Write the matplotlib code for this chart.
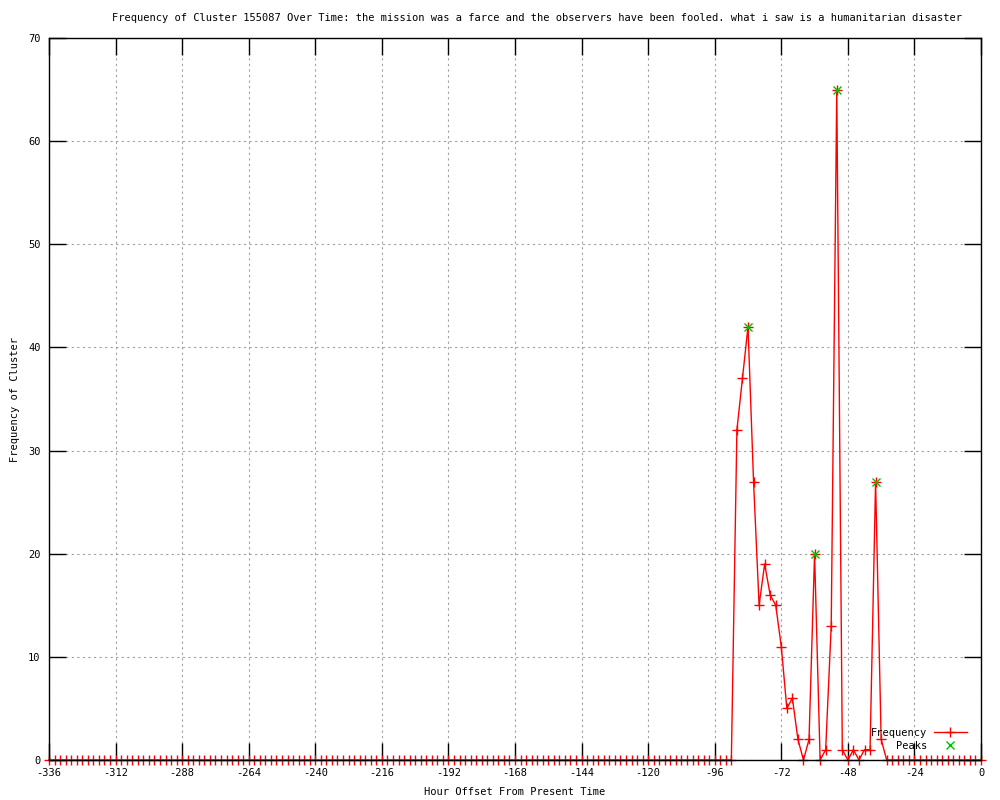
import numpy as np
import matplotlib
matplotlib.use("Agg")
import matplotlib.pyplot as plt

# data: frequency every 2 hours, -336 .. 0
hours = np.arange(-336, 1, 2)
freq = [
    0, 0, 0, 0, 0, 0, 0, 0, 0, 0, 0, 0, 0, 0, 0, 0, 0, 0, 0, 0,
    0, 0, 0, 0, 0, 0, 0, 0, 0, 0, 0, 0, 0, 0, 0, 0, 0, 0, 0, 0,
    0, 0, 0, 0, 0, 0, 0, 0, 0, 0, 0, 0, 0, 0, 0, 0, 0, 0, 0, 0,
    0, 0, 0, 0, 0, 0, 0, 0, 0, 0, 0, 0, 0, 0, 0, 0, 0, 0, 0, 0,
    0, 0, 0, 0, 0, 0, 0, 0, 0, 0, 0, 0, 0, 0, 0, 0, 0, 0, 0, 0,
    0, 0, 0, 0, 0, 0, 0, 0, 0, 0, 0, 0, 0, 0, 0, 0, 0, 0, 0, 0,
    0, 0, 0, 0,
    # -88 .. -34
    32, 37, 42, 27, 15, 19, 16, 15, 11, 5, 6, 2, 0, 2,
    20, 0, 1, 13, 65, 1, 0, 1, 0, 1, 1, 27, 2, 0,
    # -32 .. 0
    0, 0, 0, 0, 0, 0, 0, 0, 0, 0, 0, 0, 0, 0, 0, 0, 0,
]

peak_hours = [-84, -60, -52, -38]
peak_vals = [42, 20, 65, 27]

xticks = list(range(-336, 1, 24))
yticks = list(range(0, 71, 10))

title = ("Frequency of Cluster 155087 Over Time: the mission was a farce and "
         "the observers have been fooled. what i saw is a humanitarian disaster")

plt.rcParams["font.family"] = "DejaVu Sans Mono"
plt.rcParams["font.size"] = 7.5
plt.rcParams["axes.unicode_minus"] = False

fig = plt.figure(figsize=(10, 8), dpi=100)
ax = fig.add_axes([0.049, 0.05, 0.932, 0.9025])

ax.plot(hours, freq, color="#ff0000", lw=1, marker="+", ms=7, mew=1,
        clip_on=False, zorder=2, label="Frequency")
ax.plot(peak_hours, peak_vals, ls="none", color="#00c000", marker="x", ms=6,
        mew=1, clip_on=False, zorder=3, label="    Peaks")

ax.set_xlim(-336, 0)
ax.set_ylim(0, 70)
ax.set_xticks(xticks)
ax.set_yticks(yticks)

ax.grid(True, color="#a0a0a0", lw=0.8, ls=(0, (2, 3)))
ax.tick_params(direction="in", length=12, width=1, top=True, right=True,
               labelsize=7.5, pad=6)
for s in ax.spines.values():
    s.set_linewidth(1)

# gnuplot puts the title a bit right of centre
fig.text(0.537, 1 - 18 / 800, title, fontsize=7.5, ha="center", va="center")
ax.set_xlabel("Hour Offset From Present Time", labelpad=6)
ax.set_ylabel("Frequency of Cluster", labelpad=6)

ax.legend(loc="lower right", bbox_to_anchor=(0.995, 0.0), frameon=False,
          markerfirst=False, handlelength=3.2, handletextpad=0.6,
          labelspacing=0.25, borderaxespad=0.5, fontsize=7.5)

fig.savefig("out.png", dpi=100)
